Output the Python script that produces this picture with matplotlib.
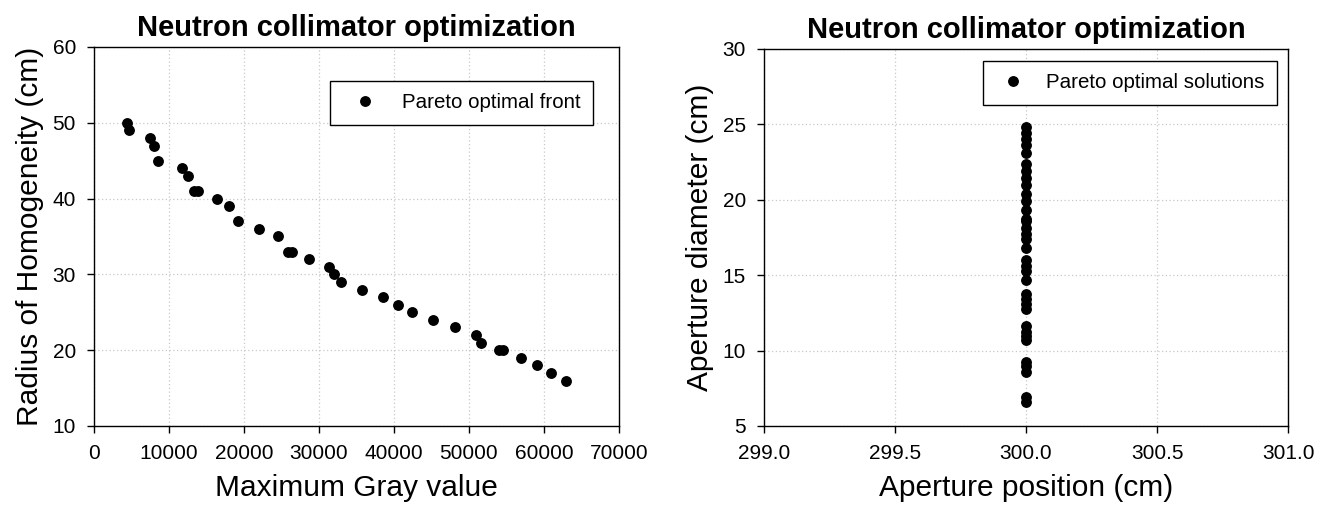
import matplotlib
matplotlib.use("Agg")
import matplotlib.pyplot as plt
from matplotlib.ticker import FormatStrFormatter

plt.rcParams["font.family"] = ["Liberation Sans", "DejaVu Sans"]

TITLE = "Neutron collimator optimization"

# left panel: Pareto optimal front
gray_value = [4400, 4700, 7500, 8000, 8600, 11700, 12500, 13400, 13900, 16400,
              18000, 19200, 22000, 24600, 25900, 26400, 28700, 31400, 32000, 33000,
              35800, 38500, 40500, 42400, 45200, 48100, 51000, 51600, 54000, 54500,
              56900, 59100, 60900, 63000]
homogeneity = [50, 49, 48, 47, 45, 44, 43, 41, 41, 40,
               39, 37, 36, 35, 33, 33, 32, 31, 30, 29,
               28, 27, 26, 25, 24, 23, 22, 21, 20, 20,
               19, 18, 17, 16]

# right panel: Pareto optimal solutions
aperture_diameter = [24.85, 24.45, 24.0, 23.6, 23.1, 22.4, 21.9, 21.45, 20.95, 20.4,
                     19.9, 19.3, 18.75, 18.6, 18.1, 17.7, 17.4, 16.8, 16.0, 15.6,
                     15.3, 14.7, 13.75, 13.4, 13.1, 12.75, 11.6, 11.25, 10.95, 10.7,
                     9.25, 8.95, 8.6, 6.9, 6.6]
aperture_position = [300.0] * len(aperture_diameter)


def style_axes(ax):
    ax.grid(True, color="#c8c8c8", linestyle=(0, (1, 2)), linewidth=0.9)
    ax.set_axisbelow(True)
    ax.tick_params(axis="both", direction="out", length=5, width=1.0,
                   labelsize=15, top=False, right=False, pad=8)
    for spine in ax.spines.values():
        spine.set_linewidth(1.0)
    ax.set_title(TITLE, fontsize=21, fontweight="bold", pad=8)


def add_legend(ax, anchor, handlelength=2.2):
    leg = ax.legend(loc="upper right", bbox_to_anchor=anchor, borderaxespad=0,
                    fancybox=False, edgecolor="black", framealpha=1, fontsize=14.8,
                    handletextpad=0.7, borderpad=0.6, handlelength=handlelength)
    leg.get_frame().set_linewidth(1.0)


fig = plt.figure(figsize=(13.29, 5.07), dpi=100)
ax1 = fig.add_axes([0.0707, 0.1598, 0.395, 0.7475])
ax2 = fig.add_axes([0.5749, 0.1598, 0.3943, 0.7436])

ax1.plot(gray_value, homogeneity, "o", color="black", markersize=6.8,
         label="Pareto optimal front")
ax1.set_xlim(0, 70000)
ax1.set_ylim(10, 60)
ax1.set_xticks(range(0, 70001, 10000))
ax1.set_yticks(range(10, 61, 10))
ax1.set_xlabel("Maximum Gray value", fontsize=21.5, labelpad=8)
ax1.set_ylabel("Radius of Homogeneity (cm)", fontsize=21.5, labelpad=6)
style_axes(ax1)
add_legend(ax1, (0.950, 0.910))

ax2.plot(aperture_position, aperture_diameter, "o", color="black", markersize=6.8,
         label="Pareto optimal solutions")
ax2.set_xlim(299, 301)
ax2.set_ylim(5, 30)
ax2.set_xticks([299.0, 299.5, 300.0, 300.5, 301.0])
ax2.set_yticks(range(5, 31, 5))
ax2.xaxis.set_major_formatter(FormatStrFormatter("%.1f"))
ax2.set_xlabel("Aperture position (cm)", fontsize=21.5, labelpad=8)
ax2.set_ylabel("Aperture diameter (cm)", fontsize=21.5, labelpad=6)
style_axes(ax2)
add_legend(ax2, (0.979, 0.968), handlelength=1.8)

fig.savefig("out.png", dpi=100)
